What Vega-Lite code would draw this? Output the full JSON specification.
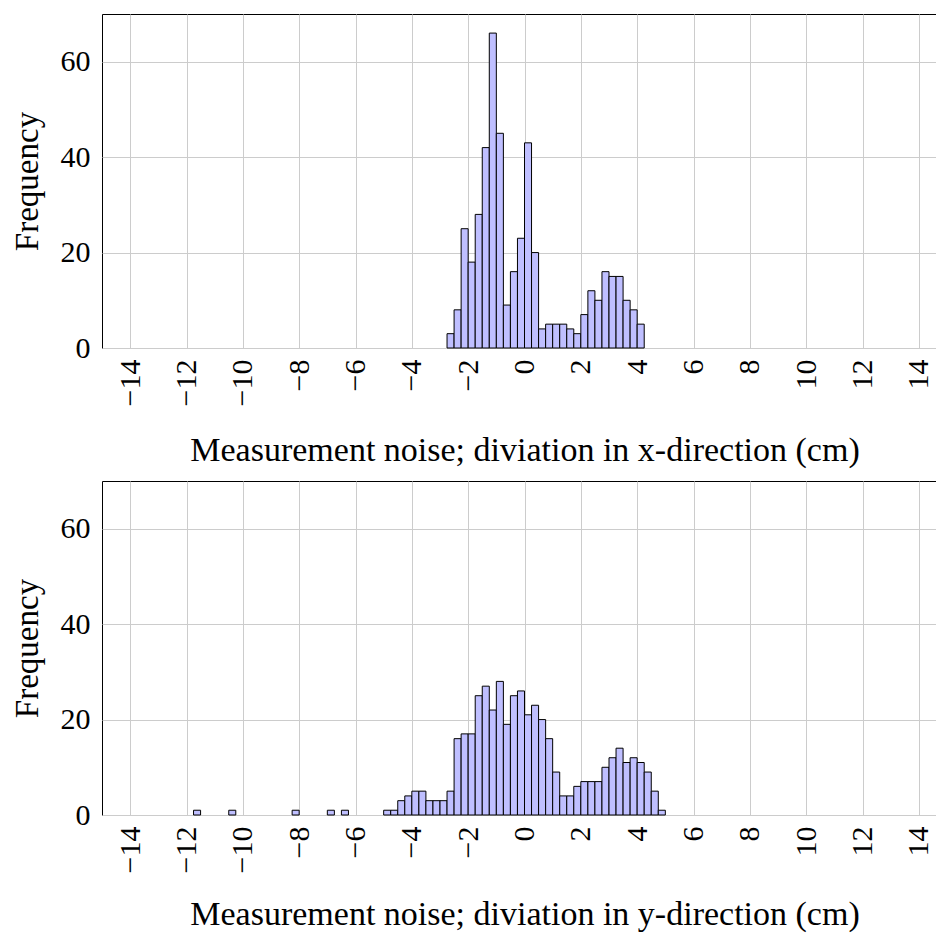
{
  "$schema": "https://vega.github.io/schema/vega-lite/v6.json",
  "padding": {"left": 10, "top": 13, "right": 0, "bottom": 0},
  "spacing": 11,
  "background": "white",
  "datasets": {
    "xdev": [
      {"bin_start": -2.75, "bin_end": -2.5, "count": 3},
      {"bin_start": -2.5, "bin_end": -2.25, "count": 8},
      {"bin_start": -2.25, "bin_end": -2.0, "count": 25},
      {"bin_start": -2.0, "bin_end": -1.75, "count": 18},
      {"bin_start": -1.75, "bin_end": -1.5, "count": 28},
      {"bin_start": -1.5, "bin_end": -1.25, "count": 42},
      {"bin_start": -1.25, "bin_end": -1.0, "count": 66},
      {"bin_start": -1.0, "bin_end": -0.75, "count": 45},
      {"bin_start": -0.75, "bin_end": -0.5, "count": 9},
      {"bin_start": -0.5, "bin_end": -0.25, "count": 16},
      {"bin_start": -0.25, "bin_end": 0.0, "count": 23},
      {"bin_start": 0.0, "bin_end": 0.25, "count": 43},
      {"bin_start": 0.25, "bin_end": 0.5, "count": 20},
      {"bin_start": 0.5, "bin_end": 0.75, "count": 4},
      {"bin_start": 0.75, "bin_end": 1.0, "count": 5},
      {"bin_start": 1.0, "bin_end": 1.25, "count": 5},
      {"bin_start": 1.25, "bin_end": 1.5, "count": 5},
      {"bin_start": 1.5, "bin_end": 1.75, "count": 4},
      {"bin_start": 1.75, "bin_end": 2.0, "count": 3},
      {"bin_start": 2.0, "bin_end": 2.25, "count": 7},
      {"bin_start": 2.25, "bin_end": 2.5, "count": 12},
      {"bin_start": 2.5, "bin_end": 2.75, "count": 10},
      {"bin_start": 2.75, "bin_end": 3.0, "count": 16},
      {"bin_start": 3.0, "bin_end": 3.25, "count": 15},
      {"bin_start": 3.25, "bin_end": 3.5, "count": 15},
      {"bin_start": 3.5, "bin_end": 3.75, "count": 10},
      {"bin_start": 3.75, "bin_end": 4.0, "count": 8},
      {"bin_start": 4.0, "bin_end": 4.25, "count": 5}
    ],
    "ydev": [
      {"bin_start": -11.75, "bin_end": -11.5, "count": 1},
      {"bin_start": -10.5, "bin_end": -10.25, "count": 1},
      {"bin_start": -8.25, "bin_end": -8.0, "count": 1},
      {"bin_start": -7.0, "bin_end": -6.75, "count": 1},
      {"bin_start": -6.5, "bin_end": -6.25, "count": 1},
      {"bin_start": -5.0, "bin_end": -4.75, "count": 1},
      {"bin_start": -4.75, "bin_end": -4.5, "count": 1},
      {"bin_start": -4.5, "bin_end": -4.25, "count": 3},
      {"bin_start": -4.25, "bin_end": -4.0, "count": 4},
      {"bin_start": -4.0, "bin_end": -3.75, "count": 5},
      {"bin_start": -3.75, "bin_end": -3.5, "count": 5},
      {"bin_start": -3.5, "bin_end": -3.25, "count": 3},
      {"bin_start": -3.25, "bin_end": -3.0, "count": 3},
      {"bin_start": -3.0, "bin_end": -2.75, "count": 3},
      {"bin_start": -2.75, "bin_end": -2.5, "count": 5},
      {"bin_start": -2.5, "bin_end": -2.25, "count": 16},
      {"bin_start": -2.25, "bin_end": -2.0, "count": 17},
      {"bin_start": -2.0, "bin_end": -1.75, "count": 17},
      {"bin_start": -1.75, "bin_end": -1.5, "count": 25},
      {"bin_start": -1.5, "bin_end": -1.25, "count": 27},
      {"bin_start": -1.25, "bin_end": -1.0, "count": 22},
      {"bin_start": -1.0, "bin_end": -0.75, "count": 28},
      {"bin_start": -0.75, "bin_end": -0.5, "count": 19},
      {"bin_start": -0.5, "bin_end": -0.25, "count": 25},
      {"bin_start": -0.25, "bin_end": 0.0, "count": 26},
      {"bin_start": 0.0, "bin_end": 0.25, "count": 21},
      {"bin_start": 0.25, "bin_end": 0.5, "count": 23},
      {"bin_start": 0.5, "bin_end": 0.75, "count": 20},
      {"bin_start": 0.75, "bin_end": 1.0, "count": 16},
      {"bin_start": 1.0, "bin_end": 1.25, "count": 9},
      {"bin_start": 1.25, "bin_end": 1.5, "count": 4},
      {"bin_start": 1.5, "bin_end": 1.75, "count": 4},
      {"bin_start": 1.75, "bin_end": 2.0, "count": 6},
      {"bin_start": 2.0, "bin_end": 2.25, "count": 7},
      {"bin_start": 2.25, "bin_end": 2.5, "count": 7},
      {"bin_start": 2.5, "bin_end": 2.75, "count": 7},
      {"bin_start": 2.75, "bin_end": 3.0, "count": 10},
      {"bin_start": 3.0, "bin_end": 3.25, "count": 12},
      {"bin_start": 3.25, "bin_end": 3.5, "count": 14},
      {"bin_start": 3.5, "bin_end": 3.75, "count": 11},
      {"bin_start": 3.75, "bin_end": 4.0, "count": 12},
      {"bin_start": 4.0, "bin_end": 4.25, "count": 11},
      {"bin_start": 4.25, "bin_end": 4.5, "count": 9},
      {"bin_start": 4.5, "bin_end": 4.75, "count": 5},
      {"bin_start": 4.75, "bin_end": 5.0, "count": 1}
    ]
  },
  "config": {
    "font": "Liberation Serif, serif",
    "view": {"stroke": "black", "strokeWidth": 1},
    "axis": {
      "labelFont": "Liberation Serif, serif",
      "titleFont": "Liberation Serif, serif",
      "labelFontSize": 30,
      "titleFontSize": 34,
      "titleFontWeight": "normal",
      "labelColor": "black",
      "titleColor": "black",
      "gridColor": "#cccccc",
      "gridWidth": 1,
      "gridOpacity": 1,
      "ticks": false,
      "domain": false
    }
  },
  "vconcat": [
    {
      "data": {"name": "xdev"},
      "width": 845,
      "height": 334,
      "mark": {"type": "bar", "fill": "#bfbfff", "stroke": "black", "strokeWidth": 1},
      "encoding": {
        "x": {
          "field": "bin_start", "type": "quantitative",
          "scale": {"domain": [-15, 15], "nice": false, "zero": false},
          "axis": {
            "values": [-14, -12, -10, -8, -6, -4, -2, 0, 2, 4, 6, 8, 10, 12, 14],
            "labelAngle": -90, "labelPadding": 11, "titlePadding": 28,
            "title": "Measurement noise; diviation in x-direction (cm)"
          }
        },
        "x2": {"field": "bin_end"},
        "y": {
          "field": "count", "type": "quantitative",
          "scale": {"domain": [0, 70], "nice": false},
          "axis": {"values": [0, 20, 40, 60], "labelPadding": 12, "titlePadding": 16, "title": "Frequency", "titleFontSize": 33}
        },
        "y2": {"datum": 0}
      }
    },
    {
      "data": {"name": "ydev"},
      "width": 845,
      "height": 334,
      "mark": {"type": "bar", "fill": "#bfbfff", "stroke": "black", "strokeWidth": 1},
      "encoding": {
        "x": {
          "field": "bin_start", "type": "quantitative",
          "scale": {"domain": [-15, 15], "nice": false, "zero": false},
          "axis": {
            "values": [-14, -12, -10, -8, -6, -4, -2, 0, 2, 4, 6, 8, 10, 12, 14],
            "labelAngle": -90, "labelPadding": 11, "titlePadding": 25,
            "title": "Measurement noise; diviation in y-direction (cm)"
          }
        },
        "x2": {"field": "bin_end"},
        "y": {
          "field": "count", "type": "quantitative",
          "scale": {"domain": [0, 70], "nice": false},
          "axis": {"values": [0, 20, 40, 60], "labelPadding": 12, "titlePadding": 16, "title": "Frequency", "titleFontSize": 33}
        },
        "y2": {"datum": 0}
      }
    }
  ]
}
